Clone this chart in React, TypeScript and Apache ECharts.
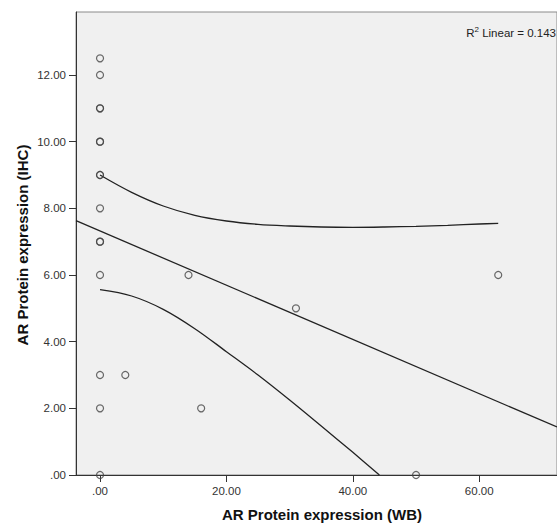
import React, { useEffect, useRef } from "react";
import * as echarts from "echarts";

// Scatter data (AR Protein expression WB vs IHC)
const wbValues = [0, 0, 0, 0, 0, 0, 0, 0, 0, 0, 0, 0, 0, 0, 0, 4, 14, 16, 31, 50, 63];
const ihcValues = [12.5, 12, 11, 11, 10, 10, 9, 9, 8, 7, 7, 6, 3, 2, 0, 3, 6, 2, 5, 0, 6];

// Linear fit line (endpoints at the axis extent)
const fitX = [-3.8, 72.3];
const fitY = [7.63, 1.44];

// Confidence band curves
const upperX = [0, 5, 10, 15, 20, 25, 30, 35, 40, 45, 50, 55, 60, 63];
const upperY = [9.0, 8.48, 8.07, 7.79, 7.62, 7.52, 7.47, 7.44, 7.43, 7.44, 7.46, 7.49, 7.53, 7.55];
const lowerX = [0, 5, 10, 15, 20, 25, 30, 35, 40, 44.2];
const lowerY = [5.56, 5.37, 4.97, 4.39, 3.7, 3.0, 2.25, 1.47, 0.68, 0];

// Ticks
const xTicks = [0, 20, 40, 60];
const yTicks = [0, 2, 4, 6, 8, 10, 12];

const xTitle = "AR Protein expression (WB)";
const yTitle = "AR Protein expression (IHC)";
const r2Value = "0.143";

const FONT = "'Liberation Sans', Arial, sans-serif";

const zip = (a: number[], b: number[]) => a.map((v, i) => [v, b[i]]);
const fmt = (v: number) => (v === 0 ? ".00" : v.toFixed(2));

export default function App() {
  const ref = useRef<HTMLDivElement>(null);
  useEffect(() => {
    if (!ref.current) return;
    const chart = echarts.init(ref.current, null, { renderer: "svg" });
    const lineStyle = { color: "#222", width: 1.3 };
    chart.setOption({
      animation: false,
      backgroundColor: "#ffffff",
      grid: {
        left: 76,
        top: 12,
        right: -1,
        bottom: 48,
        show: true,
        backgroundColor: "#f0f0f0",
        borderColor: "#8a8a8a",
        borderWidth: 1,
      },
      xAxis: {
        type: "value",
        min: -3.8,
        max: 72.3,
        axisLine: { show: true, onZero: false, lineStyle: { color: "#333", width: 1 } },
        axisTick: { show: true, length: 7, customValues: xTicks, lineStyle: { color: "#333" } },
        axisLabel: {
          customValues: xTicks,
          formatter: fmt,
          margin: 10,
          color: "#333",
          fontSize: 11.5,
          fontFamily: FONT,
        },
        splitLine: { show: false },
      },
      yAxis: {
        type: "value",
        min: 0,
        max: 13.89,
        axisLine: { show: true, onZero: false, lineStyle: { color: "#333", width: 1 } },
        axisTick: { show: true, length: 7, customValues: yTicks, lineStyle: { color: "#333" } },
        axisLabel: {
          customValues: yTicks,
          formatter: fmt,
          margin: 10,
          color: "#333",
          fontSize: 11.5,
          fontFamily: FONT,
        },
        splitLine: { show: false },
      },
      graphic: [
        {
          type: "text",
          x: 322,
          y: 514,
          style: {
            text: xTitle,
            fill: "#111",
            font: `bold 15px ${FONT}`,
            align: "center",
            verticalAlign: "middle",
            textAlign: "center",
            textVerticalAlign: "middle",
          },
        },
        {
          type: "text",
          x: 22,
          y: 245,
          rotation: Math.PI / 2,
          style: {
            text: yTitle,
            fill: "#111",
            font: `bold 15px ${FONT}`,
            align: "center",
            verticalAlign: "middle",
            textAlign: "center",
            textVerticalAlign: "middle",
          },
        },
        {
          type: "text",
          x: 556,
          y: 32,
          style: {
            text: `{r|R}{s|2}{r| Linear = ${r2Value}}`,
            align: "right",
            verticalAlign: "middle",
            textAlign: "right",
            textVerticalAlign: "middle",
            rich: {
              r: { fontSize: 11.5, fontFamily: FONT, fill: "#222", lineHeight: 14, verticalAlign: "bottom" },
              s: { fontSize: 8, fontFamily: FONT, fill: "#222", lineHeight: 9, verticalAlign: "top" },
            },
          },
        },
      ],
      series: [
        {
          type: "line",
          data: zip(fitX, fitY),
          showSymbol: false,
          lineStyle,
          clip: true,
          z: 3,
        },
        {
          type: "line",
          data: zip(upperX, upperY),
          showSymbol: false,
          smooth: 0.35,
          lineStyle,
          clip: true,
          z: 3,
        },
        {
          type: "line",
          data: zip(lowerX, lowerY),
          showSymbol: false,
          smooth: 0.35,
          lineStyle,
          clip: true,
          z: 3,
        },
        {
          type: "scatter",
          data: zip(wbValues, ihcValues),
          symbol: "circle",
          symbolSize: 7,
          itemStyle: { color: "rgba(0,0,0,0)", borderColor: "#444", borderWidth: 1.2 },
          z: 4,
        },
      ],
    });
    return () => chart.dispose();
  }, []);
  return (
    <div
      ref={ref}
      style={{ position: "fixed", left: 0, top: 0, width: 557, height: 523, background: "#fff" }}
    />
  );
}
